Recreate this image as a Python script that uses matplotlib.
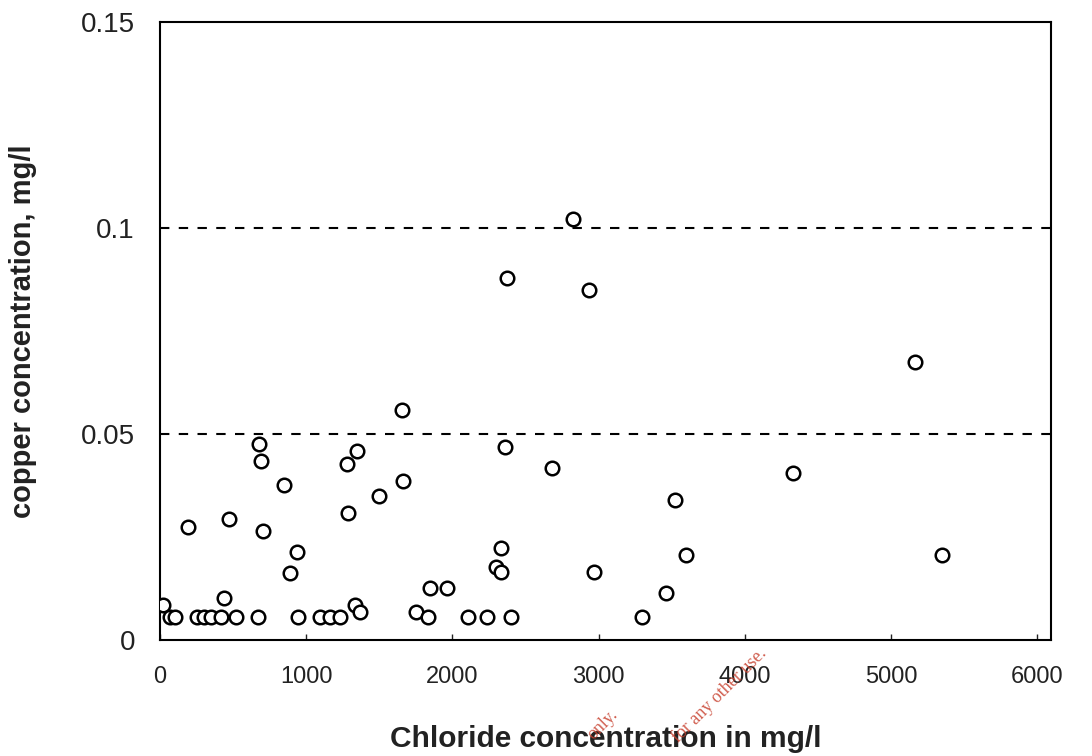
import numpy as np
import matplotlib
matplotlib.use("Agg")
import matplotlib.pyplot as plt

plt.rcParams['font.family'] = ['Liberation Sans', 'DejaVu Sans']

# 氯离子浓度 (mg/l) 与铜浓度 (mg/l) 的实测点
chloride = [20, 70, 100, 190, 250, 300, 350, 420, 440, 470, 520, 670,
            680, 690, 705, 850, 890, 940, 945, 1095, 1160, 1230, 1280, 1285,
            1335, 1345, 1370, 1500, 1655, 1660, 1750, 1830, 1850, 1960, 2110,
            2240, 2300, 2330, 2335, 2360, 2375, 2400, 2680, 2825, 2935, 2970,
            3300, 3460, 3520, 3600, 4330, 5165, 5350]
copper = [0.0085, 0.0056, 0.0056, 0.0274, 0.0056, 0.0056, 0.0056, 0.0056, 0.0102, 0.0294, 0.0056, 0.0056,
          0.0476, 0.0434, 0.0265, 0.0376, 0.0163, 0.0214, 0.0056, 0.0056, 0.0056, 0.0056, 0.0427, 0.0308,
          0.0085, 0.0459, 0.0068, 0.0350, 0.0558, 0.0386, 0.0068, 0.0056, 0.0126, 0.0126, 0.0056,
          0.0056, 0.0177, 0.0223, 0.0165, 0.0468, 0.0879, 0.0056, 0.0417, 0.1022, 0.0850, 0.0165,
          0.0056, 0.0114, 0.0340, 0.0206, 0.0405, 0.0675, 0.0206]
limits = [0.05, 0.1]
xticks = [0, 1000, 2000, 3000, 4000, 5000, 6000]
yticks = [0, 0.05, 0.1, 0.15]
ytick_labels = ['0', '0.05', '0.1', '0.15']

fig = plt.figure(figsize=(10.92, 7.56), dpi=100)
ax = fig.add_axes([0.1465, 0.1534, 0.816, 0.8175])

for lim in limits:
    ax.axhline(lim, color='black', lw=1.5, ls=(0, (4.5, 4.5)), zorder=1)

ax.scatter(chloride, copper, s=95, facecolors='white', edgecolors='black',
           linewidths=1.8, zorder=3)

ax.set_xlim(0, 6095)
ax.set_ylim(0, 0.15)
ax.set_xticks(xticks)
ax.set_xticklabels([str(v) for v in xticks])
ax.set_yticks(yticks)
ax.set_yticklabels(ytick_labels)
ax.tick_params(axis='x', direction='in', length=4, width=1, pad=19,
               labelsize=17, colors='#222222')
ax.tick_params(axis='y', length=0, pad=18, labelsize=20, colors='#222222')
for sp in ax.spines.values():
    sp.set_linewidth(1.5)

ax.set_xlabel('Chloride concentration in mg/l', fontsize=21.5, fontweight='bold',
              labelpad=26, color='#222222')
ax.set_ylabel('copper concentration, mg/l', fontsize=21, fontweight='bold',
              color='#222222')
ax.yaxis.set_label_coords(-0.138, 0.5)

# 红色水印
fig.text(0.552, 0.041, 'only.', color='#c8412f', fontsize=13, rotation=45,
         ha='center', va='center', family='Liberation Serif', alpha=0.85)
fig.text(0.659, 0.081, 'for any other use.', color='#c8412f', fontsize=13,
         rotation=45, ha='center', va='center', family='Liberation Serif',
         alpha=0.85)

fig.savefig('out.png', dpi=100)
